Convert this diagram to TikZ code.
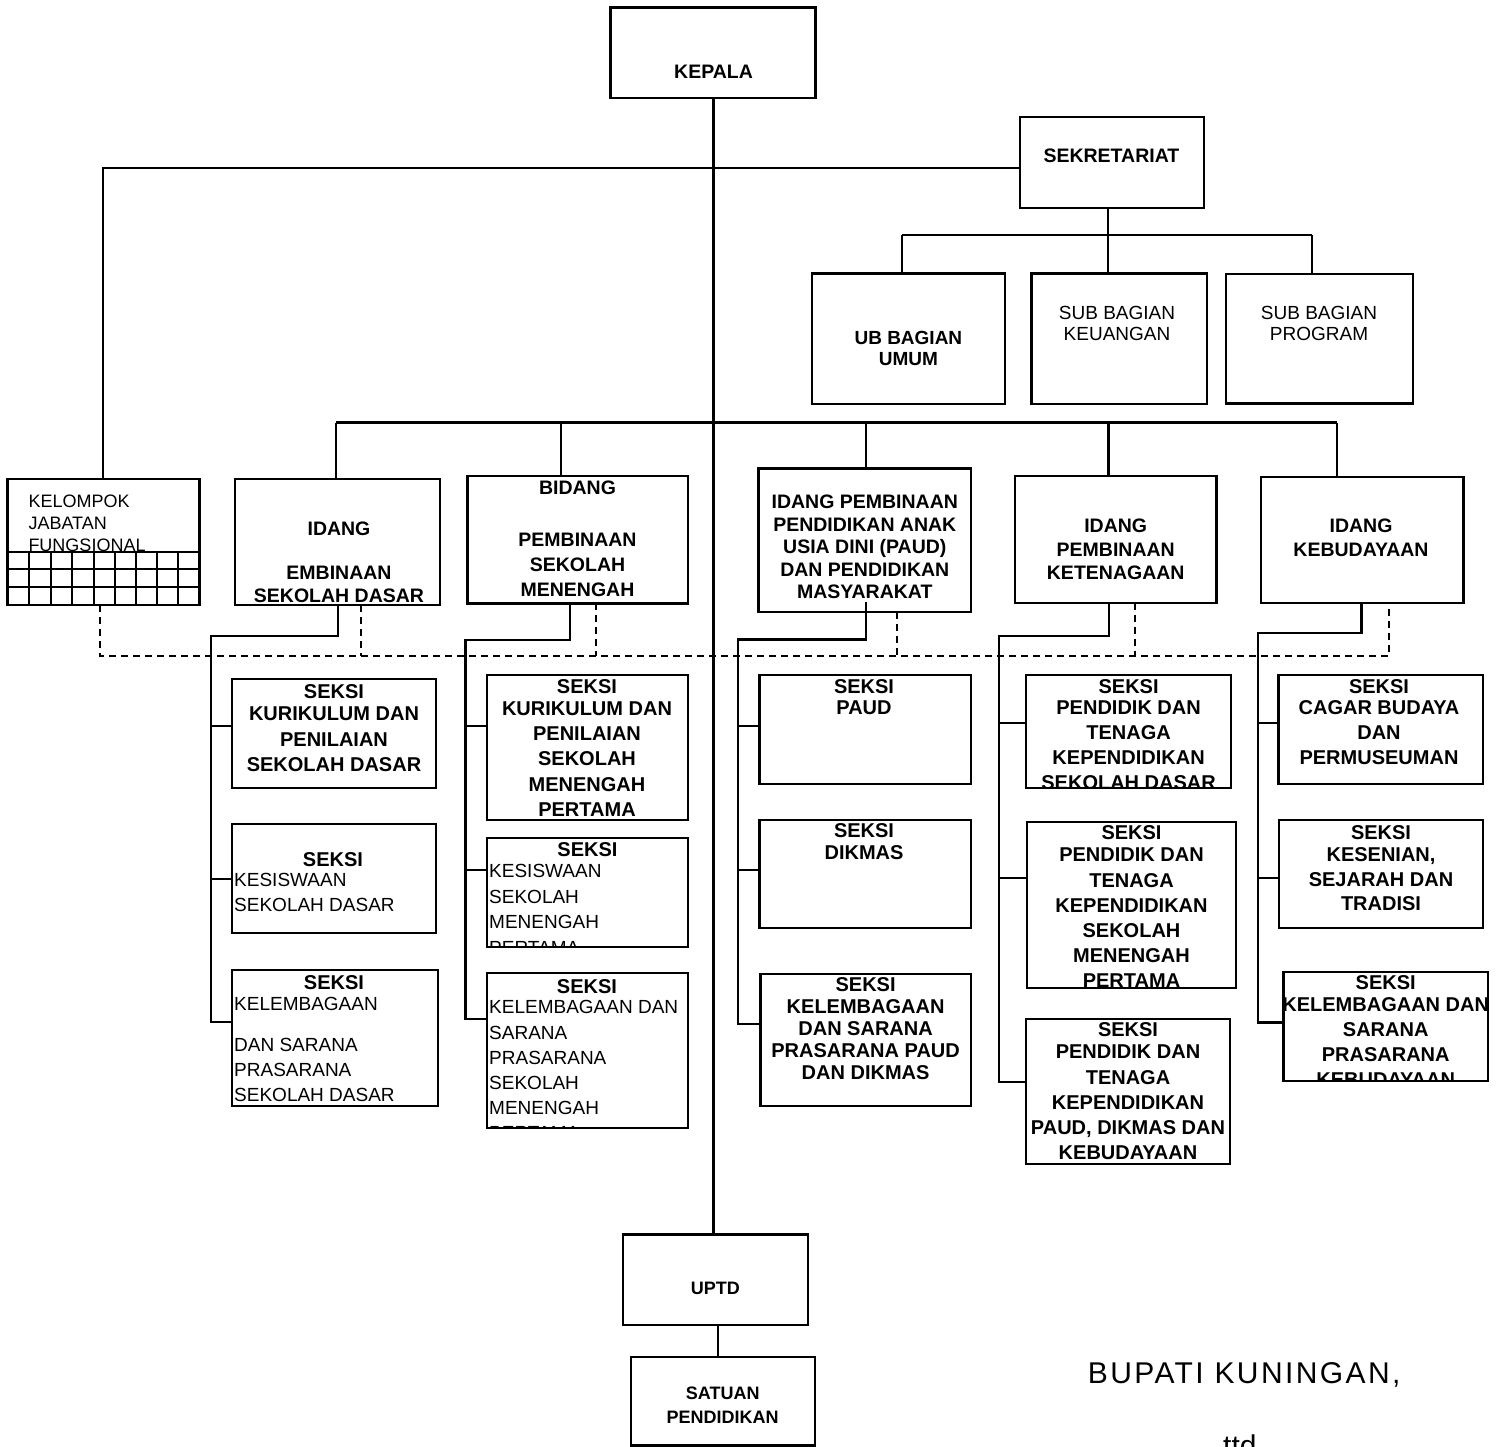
\documentclass[tikz,border=0pt]{standalone}
\usepackage{fontspec}
\setmainfont{Liberation Sans}
\newfontfamily\bupfont[LetterSpace=8]{Liberation Sans}
\usetikzlibrary{fit}
\tikzset{
  box/.style={draw, line width=2.4pt, inner sep=0pt, outer sep=0pt, rectangle},
  conn/.style={line width=2.1pt},
  dconn/.style={line width=1.9pt, dash pattern=on 7pt off 5pt},
  gridln/.style={line width=1.8pt},
  hb/.style={font=\bfseries\fontsize{19.5}{22}\selectfont, inner sep=0pt, align=center, anchor=north},
  sb/.style={font=\bfseries\fontsize{20}{25}\selectfont, inner sep=0pt, align=center, anchor=north},
  sr/.style={font=\fontsize{19}{25}\selectfont, inner sep=0pt, align=left, anchor=north west},
  rc/.style={font=\fontsize{19}{21}\selectfont, inner sep=0pt, align=center, anchor=north},
}
\begin{document}
\begin{tikzpicture}[x=1pt,y=-1pt]
\useasboundingbox (0,0) rectangle (1502,1447);
\clip (0,0) rectangle (1502,1447);

% ---------- boxes ----------
\node[box, fit={(610.5,7.5) (815.5,98.3)}] (kepala) {};
\node[box, fit={(1019.8,117.3) (1204,208.3)}] (sekr) {};
\node[box, fit={(812,273.5) (1005,404)}] (umum) {};
\node[box, fit={(1031.4,273.5) (1207,404)}] (keu) {};
\node[box, fit={(1225.7,274) (1413,403.3)}] (prog) {};
\node[box, fit={(7.3,479) (199.3,605)}] (kjf) {};
\node[box, fit={(235,479) (440,605)}] (sdb) {};
\node[box, fit={(467.3,476) (687.7,603.3)}] (smpb) {};
\node[box, fit={(758.4,468.3) (971,611.7)}] (paudb) {};
\node[box, fit={(1014.8,476) (1216.5,602.7)}] (tenb) {};
\node[box, fit={(1261,476.7) (1463.3,602.7)}] (budb) {};
\node[box, fit={(232,679) (436,788)}] (sd1) {};
\node[box, fit={(232,824) (436,933)}] (sd2) {};
\node[box, fit={(231.7,970) (438,1105.7)}] (sd3) {};
\node[box, fit={(486.7,675) (687.7,820)}] (smp1) {};
\node[box, fit={(486.7,837.7) (687.7,946.7)}] (smp2) {};
\node[box, fit={(486.7,973) (687.7,1128)}] (smp3) {};
\node[box, fit={(759.5,675) (970.7,784)}] (pd1) {};
\node[box, fit={(759.5,820) (970.7,927.7)}] (pd2) {};
\node[box, fit={(760.5,974) (970.7,1105.7)}] (pd3) {};
\node[box, fit={(1026,675) (1231,788)}] (tn1) {};
\node[box, fit={(1027,822) (1236,988)}] (tn2) {};
\node[box, fit={(1025.7,1019) (1230,1164)}] (tn3) {};
\node[box, fit={(1278.6,675) (1483,784)}] (bd1) {};
\node[box, fit={(1279,820) (1483,928)}] (bd2) {};
\node[box, fit={(1283.5,972) (1488,1081)}] (bd3) {};
\node[box, fit={(622.7,1234.3) (807.7,1325)}] (uptd) {};
\node[box, fit={(631,1356.7) (815,1445.5)}] (satuan) {};

% grid of kelompok jabatan fungsional
\foreach \yy in {551.7,569.3,587.3} \draw[gridln] (7.3,\yy) -- (199.3,\yy);
\foreach \xx in {29,50.7,72.3,93.7,115,136.3,156.7,177.7} \draw[gridln] (\xx,551.7) -- (\xx,605);

% ---------- connectors ----------
\coordinate (trx) at (713.5,0);
\draw[conn] (kepala.south -| trx) -- (uptd.north -| trx);
\coordinate (usx) at (718.3,0);
\draw[conn] (uptd.south -| usx) -- (satuan.north -| usx);

\coordinate (yS) at (0,168.3);
\draw[conn] (sekr.west |- yS) -| (kjf.north);

\coordinate (sdrop) at (1108,235);
\coordinate (subL) at (902,235);
\coordinate (subR) at (1311.7,235);
\draw[conn] (sekr.south -| sdrop) -- (sdrop);
\draw[conn] (subL) -- (subR);
\draw[conn] (subL) -- (umum.north -| subL);
\draw[conn] (sdrop) -- (keu.north -| sdrop);
\draw[conn] (subR) -- (prog.north -| subR);

\coordinate (m1) at (335.7,422.5);
\coordinate (m2) at (561,422.5);
\coordinate (m3) at (866,422.5);
\coordinate (m4) at (1108.5,422.5);
\coordinate (m5) at (1336.7,422.5);
\draw[conn] (m1) -- (m5);
\draw[conn] (m1) -- (sdb.north -| m1);
\draw[conn] (m2) -- (smpb.north -| m2);
\draw[conn] (m3) -- (paudb.north -| m3);
\draw[conn] (m4) -- (tenb.north -| m4);
\draw[conn] (m5) -- (budb.north -| m5);

% SD column
\coordinate (sdA) at (338,635.7);
\coordinate (sdB) at (210.8,635.7);
\coordinate (sdC) at (210.8,1022);
\coordinate (sdk1) at (210.8,726);
\coordinate (sdk2) at (210.8,879);
\draw[conn] (sdb.south -| sdA) -- (sdA) -- (sdB) -- (sdC) -- (sd3.west |- sdC);
\draw[conn] (sdk1) -- (sd1.west |- sdk1);
\draw[conn] (sdk2) -- (sd2.west |- sdk2);

% SMP column
\coordinate (smA) at (569.7,640);
\coordinate (smB) at (465.5,640);
\coordinate (smC) at (465.5,1019);
\coordinate (smk1) at (465.5,726);
\coordinate (smk2) at (465.5,870);
\draw[conn] (smpb.south -| smA) -- (smA) -- (smB) -- (smC) -- (smp3.west |- smC);
\draw[conn] (smk1) -- (smp1.west |- smk1);
\draw[conn] (smk2) -- (smp2.west |- smk2);

% PAUD column
\coordinate (pdS) at (866,601.7);
\coordinate (pdA) at (866,639.5);
\coordinate (pdB) at (738,639.5);
\coordinate (pdC) at (738,1024);
\coordinate (pdk1) at (738,726);
\coordinate (pdk2) at (738,870);
\draw[conn] (pdS) -- (pdA) -- (pdB) -- (pdC) -- (pd3.west |- pdC);
\draw[conn] (pdk1) -- (pd1.west |- pdk1);
\draw[conn] (pdk2) -- (pd2.west |- pdk2);

% Ketenagaan column
\coordinate (tnA) at (1109,635.7);
\coordinate (tnB) at (998.7,635.7);
\coordinate (tnC) at (998.7,1082);
\coordinate (tnk1) at (998.7,723);
\coordinate (tnk2) at (998.7,878);
\draw[conn] (tenb.south -| tnA) -- (tnA) -- (tnB) -- (tnC) -- (tn3.west |- tnC);
\draw[conn] (tnk1) -- (tn1.west |- tnk1);
\draw[conn] (tnk2) -- (tn2.west |- tnk2);

% Kebudayaan column
\coordinate (bdA) at (1361.5,633);
\coordinate (bdB) at (1258,633);
\coordinate (bdC) at (1258,1022.5);
\coordinate (bdk1) at (1258,723);
\coordinate (bdk2) at (1258,878);
\draw[conn] (budb.south -| bdA) -- (bdA) -- (bdB) -- (bdC) -- (bd3.west |- bdC);
\draw[conn] (bdk1) -- (bd1.west |- bdk1);
\draw[conn] (bdk2) -- (bd2.west |- bdk2);

% dashed coordination lines
\coordinate (dL) at (100,656);
\coordinate (dR) at (1388.6,656);
\coordinate (d2) at (361,656);
\coordinate (d3) at (595.6,656);
\coordinate (d4) at (896.7,656);
\coordinate (d5) at (1135,656);
\draw[dconn] (kjf.south -| dL) -- (dL) -- (dR) -- (budb.south -| dR);
\draw[dconn] (sdb.south -| d2) -- (d2);
\draw[dconn] (smpb.south -| d3) -- (d3);
\draw[dconn] (paudb.south -| d4) -- (d4);
\draw[dconn] (tenb.south -| d5) -- (d5);

% ---------- texts ----------
\node[hb, anchor=base] (kepala-t) at (713.6,79) {KEPALA};
\node[hb, anchor=base] (sekr-t) at (1111.4,162.7) {SEKRETARIAT};
\node[hb, font=\bfseries\fontsize{19}{21}\selectfont] (umum-t) at (908.4,331.4) {UB BAGIAN\\UMUM};
\node[rc] (keu-t) at (1117,305.7) {SUB BAGIAN\\KEUANGAN};
\node[rc] (prog-t) at (1319,305.7) {SUB BAGIAN\\PROGRAM};
\node[sr, font=\fontsize{18}{22}\selectfont] (kjf-t) at (28.3,494.4) {KELOMPOK\\JABATAN\\FUNGSIONAL};

\node[hb] (sdb-t) at (339,522) {IDANG\\[21.5pt]EMBINAAN\\[1pt]SEKOLAH DASAR};
\node[hb, font=\bfseries\fontsize{19.5}{25}\selectfont] (smpb-t) at (577.5,481) {BIDANG\\[27pt]PEMBINAAN\\SEKOLAH\\MENENGAH};
\node[hb, font=\bfseries\fontsize{19.5}{22.5}\selectfont] (paudb-t) at (864.8,495) {IDANG PEMBINAAN\\PENDIDIKAN ANAK\\USIA DINI (PAUD)\\DAN PENDIDIKAN\\MASYARAKAT};
\node[hb, font=\bfseries\fontsize{19.5}{23.5}\selectfont] (tenb-t) at (1115.7,519) {IDANG\\PEMBINAAN\\KETENAGAAN};
\node[hb, font=\bfseries\fontsize{19.5}{23.5}\selectfont] (budb-t) at (1361,519) {IDANG\\KEBUDAYAAN};

% SD seksi
\node[sb, font=\bfseries\fontsize{20}{25.5}\selectfont] (sd1-t) at (334,684.7) {SEKSI\\[-3.5pt]KURIKULUM DAN\\PENILAIAN\\SEKOLAH DASAR};
\node[sb, anchor=base] (sd2-s) at (333,866) {SEKSI};
\node[sr] (sd2-t) at (234,873.4) {KESISWAAN\\SEKOLAH DASAR};
\node[sb, anchor=base] (sd3-s) at (334,989) {SEKSI};
\node[sr] (sd3-t) at (234,997.4) {KELEMBAGAAN\\[16pt]DAN SARANA\\PRASARANA\\SEKOLAH DASAR};

% SMP seksi
\node[sb, font=\bfseries\fontsize{20}{25.3}\selectfont] (smp1-t) at (587,679.7) {SEKSI\\[-4pt]KURIKULUM DAN\\PENILAIAN\\SEKOLAH\\MENENGAH\\PERTAMA};
\node[sb, anchor=base] (smp2-s) at (587.5,856) {SEKSI};
\begin{scope}
\clip (smp2.south west) rectangle (smp2.north east);
\node[sr, font=\fontsize{19}{25.5}\selectfont] (smp2-t) at (489,864.4) {KESISWAAN\\SEKOLAH\\MENENGAH\\PERTAMA};
\end{scope}
\node[sb, anchor=base] (smp3-s) at (587,993) {SEKSI};
\begin{scope}
\clip (smp3.south west) rectangle (smp3.north east);
\node[sr, font=\fontsize{19}{25.2}\selectfont] (smp3-t) at (489,1000.4) {KELEMBAGAAN DAN\\SARANA\\PRASARANA\\SEKOLAH\\MENENGAH\\PERTAMA};
\end{scope}

% PAUD seksi
\node[sb, font=\bfseries\fontsize{20}{21}\selectfont] (pd1-t) at (864,679.7) {SEKSI\\PAUD};
\node[sb, font=\bfseries\fontsize{20}{22}\selectfont] (pd2-t) at (864,823.7) {SEKSI\\DIKMAS};
\node[sb, font=\bfseries\fontsize{20}{22}\selectfont] (pd3-t) at (865.6,977.7) {SEKSI\\KELEMBAGAAN\\DAN SARANA\\PRASARANA PAUD\\DAN DIKMAS};

% Ketenagaan seksi
\begin{scope}
\clip (tn1.south west) rectangle (tn1.north east);
\node[sb] (tn1-t) at (1128.6,679.7) {SEKSI\\[-4pt]PENDIDIK DAN\\TENAGA\\KEPENDIDIKAN\\SEKOLAH DASAR};
\end{scope}
\begin{scope}
\clip (tn2.south west) rectangle (tn2.north east);
\node[sb, font=\bfseries\fontsize{20}{25.2}\selectfont] (tn2-t) at (1131.5,825.7) {SEKSI\\[-3.2pt]PENDIDIK DAN\\TENAGA\\KEPENDIDIKAN\\SEKOLAH\\MENENGAH\\PERTAMA};
\end{scope}
\node[sb, font=\bfseries\fontsize{20}{25.2}\selectfont] (tn3-t) at (1128,1022.7) {SEKSI\\[-3.2pt]PENDIDIK DAN\\TENAGA\\KEPENDIDIKAN\\PAUD, DIKMAS DAN\\KEBUDAYAAN};

% Kebudayaan seksi
\node[sb] (bd1-t) at (1379,679.7) {SEKSI\\[-4pt]CAGAR BUDAYA\\DAN\\PERMUSEUMAN};
\node[sb, font=\bfseries\fontsize{20}{24.5}\selectfont] (bd2-t) at (1381,825.7) {SEKSI\\[-2.5pt]KESENIAN,\\SEJARAH DAN\\TRADISI};
\begin{scope}
\clip (bd3.south west) rectangle (bd3.north east);
\node[sb] (bd3-t) at (1385.7,975.7) {SEKSI\\[-3pt]KELEMBAGAAN DAN\\SARANA\\PRASARANA\\KEBUDAYAAN};
\end{scope}

% bottom
\node[hb, font=\bfseries\fontsize{18}{24}\selectfont, anchor=base] (uptd-t) at (715.3,1294) {UPTD};
\node[hb, font=\bfseries\fontsize{18}{24}\selectfont] (satuan-t) at (722.7,1387.1) {SATUAN\\PENDIDIKAN};

\node[font=\bupfont\fontsize{30}{36}\selectfont, inner sep=0pt, anchor=base west] (bupati) at (1087.7,1383) {BUPATI KUNINGAN,};
\node[font=\fontsize{30}{36}\selectfont, inner sep=0pt, anchor=base west] (ttd) at (1223,1456) {ttd};
\end{tikzpicture}
\end{document}
